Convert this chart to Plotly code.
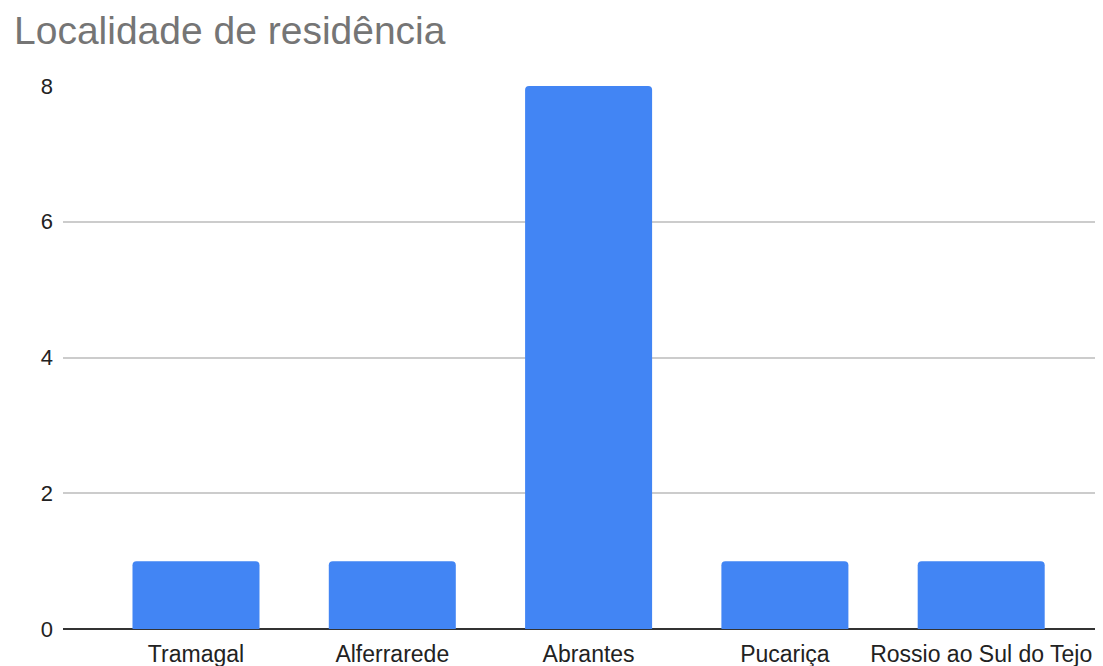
import plotly.graph_objects as go

categories = ["Tramagal", "Alferrarede", "Abrantes", "Pucariça", "Rossio ao Sul do Tejo"]
values = [1, 1, 8, 1, 1]
y_ticks = [0, 2, 4, 6, 8]
title_text = "Localidade de residência"

# the page body has an 8px margin; the plot runs past the right window edge
W, H = 1103, 658

fig = go.Figure(
    go.Bar(
        x=list(range(len(categories))),
        y=values,
        marker=dict(color="#4285F4", line=dict(width=0)),
        width=0.647,
        hoverinfo="x+y",
    )
)

fig.update_layout(
    width=W,
    height=H,
    margin=dict(l=55, r=0, t=78, b=37, pad=0),
    paper_bgcolor="white",
    plot_bgcolor="white",
    barcornerradius=4,
    showlegend=False,
    font=dict(family="Liberation Sans, Arial, sans-serif", color="#222222"),
    title=dict(
        text=title_text,
        font=dict(size=39, color="#757575", family="Liberation Sans, Arial, sans-serif"),
        x=6 / W,
        xanchor="left",
        xref="container",
        y=1 - 9 / H,
        yanchor="top",
        yref="container",
    ),
    xaxis=dict(
        tickmode="array",
        tickvals=list(range(len(categories))),
        ticktext=categories,
        range=[-0.6775, -0.6775 + 1048 / 196.3],
        showgrid=False,
        zeroline=False,
        showline=False,
        ticks="",
        tickfont=dict(size=23, color="#222222"),
        ticklabelstandoff=9,
    ),
    yaxis=dict(
        range=[0, 8],
        tickmode="array",
        tickvals=y_ticks,
        ticktext=[str(v) for v in y_ticks],
        showgrid=True,
        gridcolor="#cccccc",
        gridwidth=1.5,
        zeroline=True,
        zerolinecolor="#333333",
        zerolinewidth=1.5,
        showline=False,
        ticks="",
        tickfont=dict(size=22, color="#222222"),
        ticklabelstandoff=9,
    ),
)

fig.write_html("out.html")
